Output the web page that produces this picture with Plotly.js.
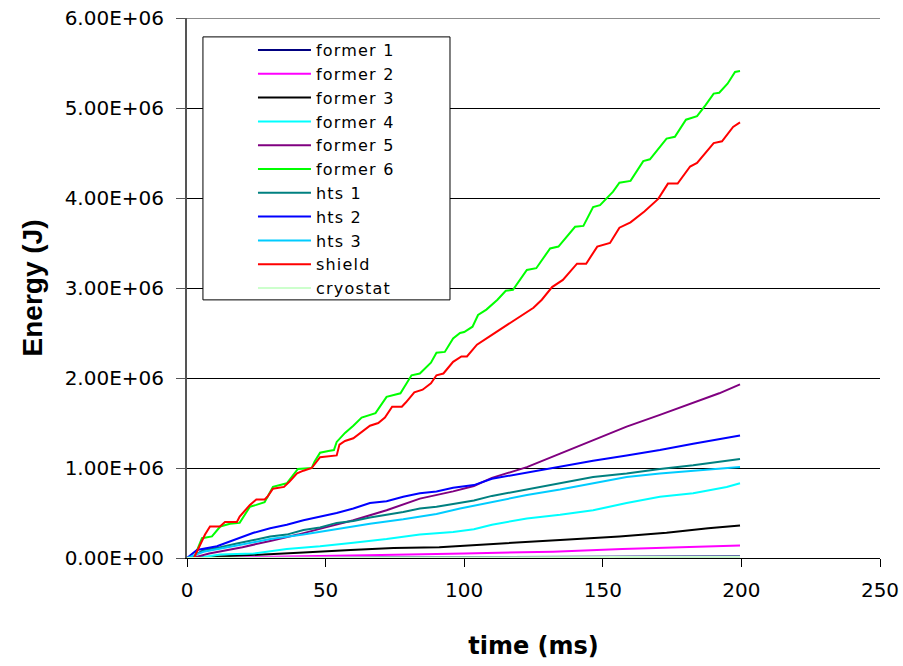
<!DOCTYPE html>
<html>
<head>
<meta charset="utf-8">
<script src="https://cdn.plot.ly/plotly-3.0.1.min.js"></script>
<style>
html,body{margin:0;padding:0;background:#fff;}
#chart{width:903px;height:666px;}
.legendtext{letter-spacing:1.2px;}
</style>
</head>
<body>
<div id="chart"></div>
<script>
// ---- data (time in ms, energy in MJ -> scaled to J) ----
const seriesNames = ["former 1","former 2","former 3","former 4","former 5","former 6","hts 1","hts 2","hts 3","shield","cryostat"];
const seriesColors = ["#000080","#FF00FF","#000000","#00FFFF","#800080","#00FF00","#008080","#0000FF","#00CCFF","#FF0000","#CCFFCC"];

const tFormer1 = [0, 100, 106, 150, 199.5];
const eFormer1 = [0, 0.01, 0.016, 0.017, 0.02];

const tFormer2 = [0, 30, 65, 100, 132, 157, 176, 194, 199.5];
const eFormer2 = [0, 0.01, 0.03, 0.05, 0.07, 0.10, 0.12, 0.14, 0.14];

const tFormer3 = [0, 7, 24, 42, 59, 74.5, 91, 101, 115, 134.6, 156, 173, 188, 199.5];
const eFormer3 = [0, 0.01, 0.03, 0.06, 0.09, 0.11, 0.12, 0.14, 0.16, 0.20, 0.24, 0.28, 0.33, 0.36];

const tFormer4 = [0, 6, 12, 24, 36, 48, 60, 72, 84, 96, 103.5, 110, 122.6, 134.6, 146.5, 158.6, 170.6, 182.6, 194.7, 199.5];
const eFormer4 = [0, 0.01, 0.04, 0.05, 0.10, 0.13, 0.17, 0.21, 0.26, 0.29, 0.32, 0.37, 0.44, 0.48, 0.53, 0.61, 0.68, 0.72, 0.79, 0.83];

const tFormer5 = [0, 3, 8, 20, 30, 40, 50, 60, 72, 84, 96, 103.5, 110, 122.6, 134.6, 146.5, 158.6, 170.6, 182.6, 192, 199.5];
const eFormer5 = [0, 0.01, 0.05, 0.12, 0.19, 0.26, 0.34, 0.42, 0.53, 0.66, 0.74, 0.80, 0.89, 1.01, 1.16, 1.31, 1.46, 1.59, 1.72, 1.83, 1.93];

const tFormer6 = [0, 2.5, 5.4, 9, 12, 15.5, 19, 22.7, 25, 28, 31, 36, 40, 45, 46, 48, 51, 53, 54, 57, 60, 63, 68, 72, 77, 81, 84, 88, 90, 93, 96, 98.5, 100, 103, 105, 108, 112, 115, 117.6, 122.6, 126, 131, 134, 137, 140, 143, 146.5, 149, 153.7, 156, 160, 164.6, 167, 173, 176, 180, 184, 187, 190, 192, 195, 197.7, 199.5];
const eFormer6 = [0, 0, 0.22, 0.24, 0.35, 0.38, 0.39, 0.57, 0.59, 0.62, 0.79, 0.83, 0.99, 1.0, 1.07, 1.17, 1.19, 1.2, 1.29, 1.39, 1.47, 1.56, 1.61, 1.79, 1.83, 2.03, 2.05, 2.17, 2.28, 2.29, 2.44, 2.5, 2.51, 2.57, 2.70, 2.76, 2.87, 2.97, 2.98, 3.2, 3.22, 3.44, 3.46, 3.57, 3.68, 3.69, 3.9, 3.92, 4.07, 4.17, 4.19, 4.41, 4.43, 4.66, 4.68, 4.87, 4.91, 5.03, 5.16, 5.17, 5.27, 5.40, 5.41];

const tHts1 = [0, 1.6, 6, 12, 18, 24, 30, 36, 42, 48, 54, 60, 66, 72, 78, 84, 90, 96, 103.5, 110, 122.6, 134.6, 146.5, 158.6, 170.6, 182.6, 194.7, 199.5];
const eHts1 = [0, 0.01, 0.09, 0.12, 0.16, 0.2, 0.24, 0.26, 0.31, 0.34, 0.39, 0.41, 0.45, 0.48, 0.51, 0.55, 0.57, 0.6, 0.64, 0.69, 0.76, 0.83, 0.90, 0.94, 0.99, 1.03, 1.08, 1.10];

const tHts2 = [0, 3.6, 10.8, 18, 24, 30, 36, 42, 48, 54, 60, 66, 72, 78, 84, 90, 96, 103.5, 110, 122.6, 134.6, 146.5, 158.6, 170.6, 182.6, 194.7, 199.5];
const eHts2 = [0, 0.09, 0.13, 0.21, 0.28, 0.33, 0.37, 0.42, 0.46, 0.50, 0.55, 0.61, 0.63, 0.68, 0.72, 0.74, 0.78, 0.81, 0.88, 0.95, 1.01, 1.08, 1.14, 1.20, 1.27, 1.33, 1.36];

const tHts3 = [0, 6, 18, 30, 42, 54, 66, 78, 90, 98.5, 110, 122.6, 134.6, 146.5, 158.6, 170.6, 182.6, 194.7, 199.5];
const eHts3 = [0, 0.07, 0.14, 0.21, 0.26, 0.32, 0.38, 0.43, 0.49, 0.55, 0.62, 0.70, 0.76, 0.83, 0.90, 0.94, 0.97, 1.0, 1.01];

const tShield = [0, 2.5, 6.5, 8.3, 11.9, 13.7, 18, 19, 22.7, 25, 28, 29, 31, 35, 37, 39.7, 42, 45, 48, 51, 54, 55, 57, 60, 63, 66, 69, 71.4, 74, 77.5, 79, 82, 85, 88, 90, 92.5, 96, 99, 101, 104.6, 110, 115, 120, 125, 128, 131.7, 135.6, 140.7, 144, 148, 152.6, 155, 156, 160, 165, 170, 173.5, 177, 181.5, 184, 190, 193, 197, 199.5];
const eShield = [0, 0, 0.26, 0.35, 0.35, 0.40, 0.40, 0.46, 0.59, 0.65, 0.65, 0.68, 0.77, 0.79, 0.85, 0.94, 0.97, 1.0, 1.12, 1.13, 1.14, 1.26, 1.30, 1.33, 1.40, 1.47, 1.50, 1.56, 1.68, 1.68, 1.73, 1.84, 1.87, 1.94, 2.03, 2.05, 2.18, 2.24, 2.24, 2.37, 2.48, 2.58, 2.68, 2.78, 2.87, 3.01, 3.09, 3.27, 3.27, 3.46, 3.5, 3.61, 3.67, 3.73, 3.85, 3.99, 4.16, 4.16, 4.35, 4.39, 4.61, 4.63, 4.79, 4.84];

const tCryostat = [0, 100, 150, 199.5];
const eCryostat = [0, 0.005, 0.012, 0.015];

const yTickVals = [0, 1e6, 2e6, 3e6, 4e6, 5e6, 6e6];
const yTickLabels = ["0.00E+00","1.00E+06","2.00E+06","3.00E+06","4.00E+06","5.00E+06","6.00E+06"];
const xTickVals = [0, 50, 100, 150, 200, 250];

const tAll = [tFormer1, tFormer2, tFormer3, tFormer4, tFormer5, tFormer6, tHts1, tHts2, tHts3, tShield, tCryostat];
const eAll = [eFormer1, eFormer2, eFormer3, eFormer4, eFormer5, eFormer6, eHts1, eHts2, eHts3, eShield, eCryostat];

const traces = seriesNames.map((name, i) => ({
  type: 'scatter', mode: 'lines', name: name,
  x: tAll[i], y: eAll[i].map(v => v * 1e6),
  line: {color: seriesColors[i], width: 2}
}));

const layout = {
  width: 903, height: 666,
  margin: {l: 187, r: 23, t: 18, b: 108},
  paper_bgcolor: '#ffffff', plot_bgcolor: '#ffffff',
  showlegend: true,
  xaxis: {
    range: [0, 250], tickvals: xTickVals, ticktext: xTickVals.map(String),
    showgrid: false, zeroline: false,
    showline: true, linecolor: '#000', linewidth: 1,
    ticks: 'outside', ticklen: 8, tickcolor: '#000', ticklabelstandoff: 6,
    tickfont: {family: 'DejaVu Sans', size: 20, color: '#000'},
    title: {text: 'time (ms)', standoff: 36, font: {family: 'DejaVu Sans', size: 24, color: '#000', weight: 'bold'}}
  },
  yaxis: {
    range: [0, 6e6], tickvals: yTickVals, ticktext: yTickLabels,
    showgrid: true, gridcolor: '#000', gridwidth: 1, zeroline: false,
    showline: true, linecolor: '#555', linewidth: 2,
    ticks: 'outside', ticklen: 9, tickcolor: '#555', ticklabelstandoff: 8,
    tickfont: {family: 'DejaVu Sans', size: 20, color: '#000'},
    title: {text: 'Energy (J)', standoff: 14, font: {family: 'Liberation Sans', size: 28, color: '#000', weight: 'bold'}}
  },
  shapes: [
    {type: 'line', xref: 'paper', yref: 'y', x0: 0, x1: 1, y0: 6e6, y1: 6e6,
     line: {color: '#666', width: 1.5}},
    {type: 'rect', xref: 'paper', yref: 'paper', layer: 'above',
     x0: 0.023, x1: 0.3795, y0: 0.478, y1: 0.965,
     line: {color: '#000', width: 1}, fillcolor: '#ffffff'}
  ],
  legend: {
    x: 0.0952, y: 0.972, xanchor: 'left', yanchor: 'top',
    bgcolor: 'rgba(0,0,0,0)', borderwidth: 0,
    itemwidth: 53, tracegroupgap: 0,
    font: {family: 'DejaVu Sans', size: 16, color: '#000'}
  }
};

Plotly.newPlot('chart', traces, layout, {displayModeBar: false, staticPlot: true});
</script>
</body>
</html>
